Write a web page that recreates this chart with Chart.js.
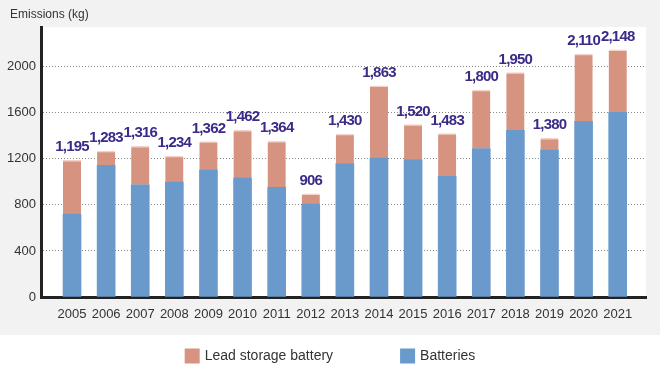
<!DOCTYPE html>
<html>
<head>
<meta charset="utf-8">
<script src="https://cdn.jsdelivr.net/npm/chart.js@4/dist/chart.umd.min.js"></script>
<style>
  html, body { margin: 0; padding: 0; background: #fff; }
</style>
</head>
<body>
<canvas id="emissionsChart" width="660" height="365"></canvas>
<script>
const years = [2005, 2006, 2007, 2008, 2009, 2010, 2011, 2012, 2013, 2014, 2015, 2016, 2017, 2018, 2019, 2020, 2021];
const batteries = [720, 1143, 975, 998, 1103, 1033, 952, 807, 1158, 1207, 1193, 1048, 1289, 1448, 1277, 1526, 1604];
const leadStorage = [467, 125, 334, 226, 247, 415, 400, 90, 258, 626, 304, 371, 509, 502, 101, 583, 542];
// totals as printed above each bar
const totals = [1195, 1283, 1316, 1234, 1362, 1462, 1364, 906, 1430, 1863, 1520, 1483, 1800, 1950, 1380, 2110, 2148];
const yTicks = [0, 400, 800, 1200, 1600, 2000];

Chart.defaults.font.family = '"Liberation Sans", Arial, sans-serif';
Chart.defaults.color = "#333";

// gray panel with white plot area and the unit caption
const panelBackground = {
  id: "panelBackground",
  beforeDraw(chart) {
    const { ctx, chartArea: a } = chart;
    ctx.save();
    ctx.fillStyle = "#fff";
    ctx.fillRect(0, 0, chart.width, chart.height);
    ctx.fillStyle = "#f2f2f2";
    ctx.fillRect(0, 0, chart.width, 335);
    ctx.fillStyle = "#fff";
    ctx.fillRect(a.left, a.top, a.right - a.left, a.bottom - a.top);
    ctx.fillStyle = "#333";
    ctx.font = '12px "Liberation Sans", Arial, sans-serif';
    ctx.textBaseline = "middle";
    ctx.fillText("Emissions (kg)", 10, 15);
    ctx.restore();
  },
};

// total value above each stacked bar
const totalLabels = {
  id: "totalLabels",
  afterDatasetsDraw(chart) {
    const { ctx } = chart;
    const meta = chart.getDatasetMeta(chart.data.datasets.length - 1);
    ctx.save();
    ctx.font = 'bold 15px "Liberation Sans", Arial, sans-serif';
    ctx.letterSpacing = "-0.8px";
    ctx.fillStyle = "#3b2a88";
    ctx.textAlign = "center";
    ctx.textBaseline = "middle";
    meta.data.forEach((bar, i) => {
      ctx.fillText(totals[i].toLocaleString("en-US"), bar.x, bar.y - 13);
    });
    ctx.restore();
  },
};

// legend below the panel
const bottomLegend = {
  id: "bottomLegend",
  afterDraw(chart) {
    const { ctx } = chart;
    const items = chart.data.datasets.slice().reverse();
    const box = 15, gap = 5, spacing = 67;
    ctx.save();
    ctx.font = '14px "Liberation Sans", Arial, sans-serif';
    const widths = items.map((d) => box + gap + ctx.measureText(d.label).width);
    const total = widths.reduce((s, w) => s + w, 0) + spacing * (items.length - 1);
    let x = (chart.width - total) / 2;
    const cy = 356;
    items.forEach((d, i) => {
      ctx.fillStyle = d.backgroundColor;
      ctx.fillRect(x, cy - box / 2, box, box);
      ctx.fillStyle = "#333";
      ctx.textBaseline = "middle";
      ctx.fillText(d.label, x + box + gap, cy);
      x += widths[i] + spacing;
    });
    ctx.restore();
  },
};

const ctx = document.getElementById("emissionsChart").getContext("2d");
new Chart(ctx, {
  type: "bar",
  data: {
    datasets: [
      {
        label: "Batteries",
        data: batteries.map((v, i) => ({ x: years[i], y: v })),
        backgroundColor: "#699acb",
        barThickness: 18,
      },
      {
        label: "Lead storage battery",
        data: leadStorage.map((v, i) => ({ x: years[i], y: v })),
        backgroundColor: "#d69380",
        borderColor: "#f3d3c9",
        borderWidth: { top: 1.5, left: 0, right: 0, bottom: 0 },
        borderSkipped: false,
        barThickness: 18,
      },
    ],
  },
  options: {
    responsive: false,
    devicePixelRatio: 1,
    animation: false,
    layout: { padding: { top: 27, left: 0, right: 14, bottom: 30 } },
    plugins: {
      legend: { display: false },
      tooltip: { enabled: false },
      title: { display: false },
    },
    scales: {
      x: {
        type: "linear",
        min: 2004.09,
        max: 2021.83,
        offset: false,
        stacked: true,
        grid: { display: false, drawTicks: false },
        border: { color: "#222", width: 3 },
        ticks: {
          autoSkip: false,
          maxRotation: 0,
          padding: 10,
          color: "#333",
          font: { size: 13 },
          callback: (v) => String(v),
        },
        afterBuildTicks: (s) => { s.ticks = years.map((v) => ({ value: v })); },
        afterFit: (s) => { s.height = 38; },
      },
      y: {
        stacked: true,
        min: 0,
        max: 2345,
        grid: { color: "#888", lineWidth: 1, drawTicks: false },
        border: { color: "#222", width: 3, dash: [1, 2] },
        ticks: { color: "#333", font: { size: 13 }, padding: 5, callback: (v) => String(v) },
        afterBuildTicks: (s) => { s.ticks = yTicks.map((v) => ({ value: v })); },
        afterFit: (s) => { s.width = 41; },
      },
    },
  },
  plugins: [panelBackground, totalLabels, bottomLegend],
});
</script>
</body>
</html>
